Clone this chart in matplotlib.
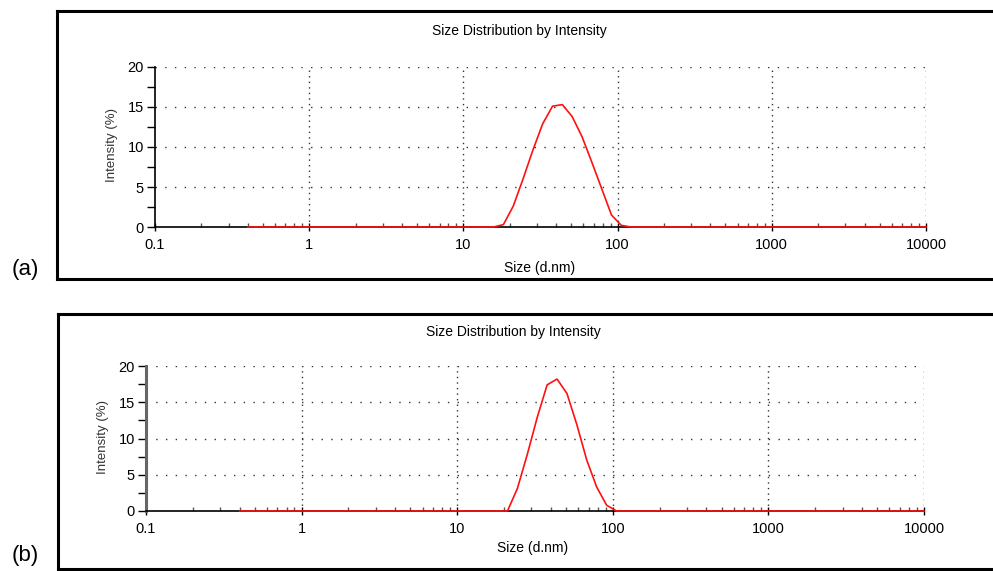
import matplotlib
matplotlib.use("Agg")
import matplotlib.pyplot as plt
from matplotlib.lines import Line2D
from matplotlib.ticker import FixedLocator, FixedFormatter, LogLocator, NullFormatter

plt.rcParams['font.family'] = ['Liberation Sans', 'DejaVu Sans']

# Size bins (d.nm) and intensity (%) for the two samples
size_a = [0.4, 15.69, 18.17, 21.04, 24.36, 28.21, 32.67, 37.84, 43.82, 50.75,
          58.77, 68.06, 78.82, 91.28, 105.7, 122.4, 10000]
intensity_a = [0, 0, 0.3, 2.6, 6.0, 9.6, 12.9, 15.1, 15.3, 13.8,
               11.3, 8.1, 4.8, 1.5, 0.2, 0, 0]

size_b = [0.4, 21.04, 24.36, 28.21, 32.67, 37.84, 43.82, 50.75,
          58.77, 68.06, 78.82, 91.28, 105.7, 10000]
intensity_b = [0, 0, 3.1, 7.8, 12.9, 17.4, 18.2, 16.2,
               11.9, 7.0, 3.3, 0.8, 0, 0]

x_ticks = [0.1, 1, 10, 100, 1000, 10000]
x_tick_labels = ["0.1", "1", "10", "100", "1000", "10000"]
y_ticks = [0, 5, 10, 15, 20]
y_tick_labels = ["0", "5", "10", "15", "20"]

title = "Size Distribution by Intensity"
xlabel = "Size (d.nm)"
ylabel = "Intensity (%)"

W, H = 993, 571
fig = plt.figure(figsize=(W / 100, H / 100), dpi=100)


def px_rect(left, top, right, bottom):
    return [left / W, 1 - bottom / H, (right - left) / W, (bottom - top) / H]


def draw_panel(rect, sizes, values, yspine_color, yspine_lw):
    ax = fig.add_axes(rect)
    ax.set_xscale('log')
    ax.set_xlim(0.1, 10000)
    ax.set_ylim(0, 20)
    for side in ('top', 'right'):
        ax.spines[side].set_visible(False)
    ax.spines['left'].set_color(yspine_color)
    ax.spines['left'].set_linewidth(yspine_lw)
    ax.spines['bottom'].set_color('black')
    ax.spines['bottom'].set_linewidth(1.2)

    ax.xaxis.set_major_locator(FixedLocator(x_ticks))
    ax.xaxis.set_major_formatter(FixedFormatter(x_tick_labels))
    ax.xaxis.set_minor_locator(LogLocator(base=10, subs=range(2, 10)))
    ax.xaxis.set_minor_formatter(NullFormatter())
    ax.yaxis.set_major_locator(FixedLocator(y_ticks))
    ax.yaxis.set_major_formatter(FixedFormatter(y_tick_labels))
    ax.yaxis.set_minor_locator(FixedLocator([2.5, 7.5, 12.5, 17.5]))

    ax.tick_params(axis='x', which='major', direction='inout', length=6,
                   width=1, color='black', labelsize=10.5, pad=5)
    ax.tick_params(axis='x', which='minor', direction='in', length=3,
                   width=1, color='#555555')
    ax.tick_params(axis='y', which='both', direction='out', length=6,
                   width=1, color='black', labelsize=10.5, pad=2)

    for v in [5, 10, 15, 20]:
        ax.axhline(v, color='#333333', lw=1, ls=(0, (1, 6)), zorder=1)
    for v in [1, 10, 100, 1000, 10000]:
        ax.axvline(v, color='#333333', lw=1, ls=(0, (1, 3)), zorder=1)

    ax.plot(sizes, values, color='#ff1010', lw=1.2, zorder=5, clip_on=False)
    return ax


ax_a = draw_panel(px_rect(155, 67, 926, 227), size_a, intensity_a, 'black', 1.2)
ax_b = draw_panel(px_rect(146, 366, 924, 511), size_b, intensity_b, '#666666', 2.2)

# Titles, axis labels and panel tags
fig.text(519 / W, 1 - 31 / H, title, ha='center', va='center', fontsize=10)
fig.text(540 / W, 1 - 268 / H, xlabel, ha='center', va='center', fontsize=10)
fig.text(112 / W, 1 - 145 / H, ylabel, ha='center', va='center', fontsize=9.5,
         rotation=90, color='#333333')

fig.text(513 / W, 1 - 332 / H, title, ha='center', va='center', fontsize=10)
fig.text(533 / W, 1 - 548 / H, xlabel, ha='center', va='center', fontsize=10)
fig.text(103 / W, 1 - 437 / H, ylabel, ha='center', va='center', fontsize=9.5,
         rotation=90, color='#333333')

fig.text(25 / W, 1 - 270 / H, "(a)", ha='center', va='center', fontsize=16)
fig.text(25 / W, 1 - 556 / H, "(b)", ha='center', va='center', fontsize=16)

# Panel frames open on the right
def frame(left, top, bottom):
    kw = dict(color='black', lw=2.2, transform=fig.transFigure)
    fig.add_artist(Line2D([left / W, 1.01], [1 - top / H, 1 - top / H], **kw))
    fig.add_artist(Line2D([left / W, 1.01], [1 - bottom / H, 1 - bottom / H], **kw))
    fig.add_artist(Line2D([left / W, left / W], [1 - top / H, 1 - bottom / H], **kw))

frame(57, 11, 279)
frame(58, 314, 569)

fig.savefig("out.png", dpi=100)
